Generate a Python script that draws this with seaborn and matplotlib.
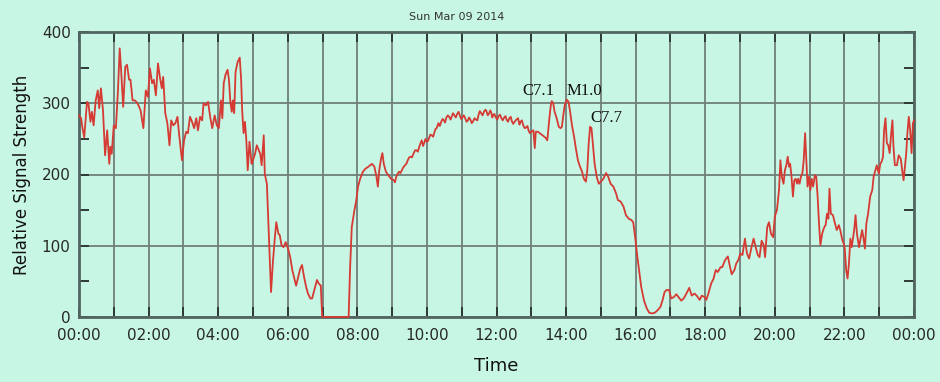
import matplotlib
matplotlib.use("Agg")
import matplotlib.pyplot as plt
import seaborn as sns
import pandas as pd

# ---- data (hours since 00:00, relative signal strength) ----
hours = [
    0.00, 0.06, 0.10, 0.15, 0.23, 0.27, 0.33, 0.37, 0.42, 0.48, 0.54, 0.58, 0.63, 0.69, 0.75, 0.81, 0.87, 0.90, 0.94,
    1.00, 1.06, 1.12, 1.17, 1.21, 1.27, 1.33, 1.38, 1.44, 1.48, 1.54, 1.60, 1.65, 1.71, 1.77, 1.85, 1.92, 1.98,
    2.04, 2.10, 2.15, 2.21, 2.27, 2.33, 2.38, 2.42, 2.48, 2.54, 2.60, 2.65, 2.71, 2.77, 2.83, 2.88, 2.96,
    3.02, 3.08, 3.13, 3.19, 3.25, 3.31, 3.37, 3.42, 3.48, 3.54, 3.58, 3.65, 3.71, 3.77, 3.83, 3.90, 3.96,
    4.02, 4.08, 4.12, 4.16, 4.21, 4.27, 4.31, 4.35, 4.39, 4.42, 4.46, 4.50, 4.56, 4.62, 4.66, 4.69, 4.73, 4.77,
    4.81, 4.85, 4.90, 4.96, 5.00, 5.06, 5.11, 5.17, 5.21, 5.25, 5.31, 5.34, 5.40, 5.46, 5.52, 5.57, 5.63, 5.67,
    5.73, 5.77, 5.82, 5.88, 5.94, 6.01, 6.07, 6.13, 6.19, 6.24, 6.30, 6.36, 6.41, 6.47, 6.53, 6.58, 6.65, 6.70,
    6.76, 6.84, 6.89, 6.95, 6.99, 7.75, 7.79, 7.84, 7.91, 7.97, 8.02, 8.08, 8.16, 8.23,
    8.32, 8.42, 8.49, 8.55, 8.59, 8.63, 8.68, 8.72, 8.76, 8.82, 8.89, 8.97, 9.05, 9.12, 9.20, 9.28, 9.37, 9.45,
    9.53, 9.62, 9.70, 9.78, 9.85, 9.92, 9.99, 10.06, 10.14, 10.22, 10.28, 10.33, 10.41, 10.49, 10.56, 10.64,
    10.72, 10.79, 10.87, 10.95, 11.02, 11.10, 11.18, 11.25, 11.33, 11.41, 11.48, 11.56, 11.64, 11.71, 11.79,
    11.85, 11.90, 11.98, 12.06, 12.14, 12.22, 12.29, 12.37, 12.44, 12.52,
    12.62, 12.69, 12.77, 12.85, 12.92, 13.00, 13.06, 13.10, 13.13, 13.19, 13.27, 13.35, 13.42, 13.46, 13.52,
    13.56, 13.59, 13.63, 13.67, 13.73, 13.79, 13.84, 13.88, 13.92, 13.96, 14.02, 14.07, 14.11, 14.17, 14.23,
    14.28, 14.34, 14.40, 14.46, 14.51, 14.57, 14.61, 14.65, 14.69, 14.73, 14.76, 14.82, 14.88, 14.94, 15.00,
    15.07, 15.15, 15.21, 15.28, 15.36, 15.44, 15.49, 15.57, 15.65, 15.72, 15.80, 15.88, 15.93, 15.99, 16.05,
    16.11, 16.16, 16.24, 16.32, 16.39, 16.47, 16.55, 16.62,
    16.71, 16.77, 16.83, 16.89, 16.96, 17.02, 17.10, 17.17, 17.23, 17.31, 17.38, 17.46, 17.54, 17.61, 17.69,
    17.77, 17.84, 17.90, 17.98, 18.03, 18.09, 18.17, 18.24, 18.30, 18.36, 18.44, 18.49, 18.57, 18.65, 18.70,
    18.76, 18.84, 18.89, 18.95, 19.01, 19.07, 19.14, 19.20, 19.26, 19.33, 19.39, 19.45, 19.51, 19.56, 19.62,
    19.68, 19.72, 19.78, 19.83, 19.89, 19.95, 20.00, 20.06, 20.12, 20.16,
    20.20, 20.25, 20.29, 20.33, 20.37, 20.41, 20.44, 20.48, 20.52, 20.56, 20.60, 20.64, 20.67, 20.71, 20.75,
    20.79, 20.83, 20.87, 20.90, 20.94, 20.98, 21.02, 21.06, 21.10, 21.15, 21.19, 21.23, 21.27, 21.31, 21.36,
    21.42, 21.46, 21.50, 21.54, 21.57, 21.61, 21.67, 21.73, 21.78, 21.84, 21.88, 21.94, 21.98, 22.01, 22.05,
    22.09, 22.13, 22.17, 22.21, 22.24, 22.28, 22.32, 22.36, 22.42, 22.47, 22.51, 22.55, 22.59, 22.63, 22.68,
    22.74, 22.80, 22.84, 22.89, 22.93, 22.99, 23.03, 23.07, 23.11, 23.14, 23.18, 23.22, 23.26, 23.30, 23.34,
    23.38, 23.41, 23.45, 23.51, 23.56, 23.62, 23.66, 23.70, 23.74, 23.78, 23.81, 23.85, 23.89, 23.93, 23.97, 24.00,
]
signal = [
    283, 279, 265, 252, 302, 300, 274, 288, 269, 304, 318, 293, 321, 290, 227, 262, 215, 239, 229,
    269, 265, 318, 377, 347, 295, 351, 354, 333, 333, 304, 304, 302, 297, 290, 265, 318, 309,
    349, 328, 333, 311, 356, 335, 321, 337, 286, 272, 241, 276, 269, 272, 281, 255, 220,
    248, 260, 258, 281, 274, 265, 279, 262, 281, 276, 300, 297, 302, 281, 265, 283, 269,
    265, 304, 279, 328, 340, 347, 333, 302, 288, 304, 286, 344, 358, 364, 333, 290, 258, 274,
    248, 206, 246, 215, 220, 229, 241, 234, 229, 213, 255, 201, 187, 112, 35, 75, 112, 133,
    117, 115, 101, 98, 105, 96, 84, 66, 54, 44, 56, 68, 73, 56, 42, 33, 26, 26,
    37, 52, 47, 44, 0, 0, 66, 126, 148, 164, 183, 194, 204, 208,
    211, 215, 211, 197, 183, 206, 222, 230, 215, 204, 199, 194, 192, 197, 204, 206, 213, 220,
    225, 230, 234, 239, 248, 244, 246, 251, 255, 260, 265, 272, 274, 276, 280, 281,
    282, 283, 285, 282, 280, 279, 276, 277, 275, 277, 283, 286, 288, 289, 286,
    287, 283, 280, 282, 279, 280, 277, 279, 275, 274,
    279, 274, 269, 266, 262, 260, 262, 237, 260, 260, 257, 254, 251, 248, 279,
    297, 303, 300, 288, 279, 267, 265, 267, 283, 297, 305, 302, 290, 269, 253,
    237, 220, 211, 204, 194, 190, 206, 244, 267, 265, 248, 215, 197, 187, 190,
    194, 202, 197, 187, 183, 173, 164, 162, 155, 143, 138, 136, 133, 110, 84,
    61, 42, 23, 12, 6, 5, 6, 9,
    14, 23, 35, 38, 38, 26, 28, 32, 28, 23, 26, 33, 41, 30, 33,
    29, 24, 30, 28, 24, 33, 47, 54, 66, 63, 70, 70, 80, 85, 73,
    60, 66, 75, 80, 89, 87, 110, 89, 82, 98, 110, 98, 87, 84, 107,
    101, 84, 126, 133, 117, 112, 141, 150, 178, 220,
    197, 187, 206, 213, 225, 211, 215, 197, 169, 192, 194, 187, 194, 187, 197,
    201, 220, 258, 225, 183, 197, 178, 194, 183, 199, 197, 169, 131, 101, 117,
    126, 129, 145, 138, 180, 145, 143, 131, 122, 129, 122, 108, 103, 96, 66,
    54, 75, 110, 98, 108, 122, 143, 117, 98, 112, 122, 110, 96, 131, 145,
    169, 178, 197, 206, 213, 201, 215, 218, 225, 262, 279, 244, 241, 230, 255,
    276, 239, 213, 213, 227, 222, 206, 192, 211, 232, 258, 281, 262, 230, 272, 276,
]
# finer readings of the noisy daytime plateau
detail_hours = [
    9.08, 9.16, 9.24, 9.32, 9.41, 9.49, 9.57, 9.66, 9.74, 9.82, 9.89, 9.96, 10.03, 10.10, 10.18, 10.25,
    10.37, 10.45, 10.52, 10.60, 10.68, 10.75, 10.83, 10.91, 10.98, 11.06, 11.14, 11.21, 11.29, 11.37,
    11.45, 11.52, 11.60, 11.68, 11.75, 11.82, 11.88, 11.94, 12.02, 12.10, 12.18, 12.26, 12.33, 12.41,
    12.48, 12.57, 12.66, 12.73, 12.81, 12.89, 12.96,
]
detail_signal = [
    189, 201, 202, 210, 215, 224, 224, 234, 232, 244, 240, 250, 247, 256, 253, 264,
    268, 278, 273, 283, 277, 286, 280, 288, 278, 283, 274, 280, 272, 279,
    276, 289, 283, 291, 283, 290, 280, 285, 277, 284, 276, 282, 274, 281,
    271, 277, 270, 276, 265, 268, 258,
]
x_tick_labels = ["00:00", "02:00", "04:00", "06:00", "08:00", "10:00", "12:00",
                 "14:00", "16:00", "18:00", "20:00", "22:00", "00:00"]
y_ticks = [0, 100, 200, 300, 400]
flare_labels = ["C7.1", "M1.0", "C7.7"]
flare_hours = [13.19, 14.53, 15.17]
flare_values = [317, 317, 279]
title_text = "Sun Mar 09 2014"

df = pd.concat([
    pd.DataFrame({"hour": hours, "signal": signal}),
    pd.DataFrame({"hour": detail_hours, "signal": detail_signal}),
]).sort_values("hour").reset_index(drop=True)

BG = "#c8f6e5"
plt.rcParams["font.family"] = ["DejaVu Sans"]

fig = plt.figure(figsize=(9.4, 3.82), dpi=100, facecolor=BG)
ax = fig.add_axes([79 / 940, 1 - 317 / 382, (914 - 79) / 940, (317 - 32) / 382])
ax.set_facecolor(BG)

sns.lineplot(data=df, x="hour", y="signal", ax=ax, color="#d53a33", linewidth=1.3,
             estimator=None, sort=False)
for ln in ax.lines:
    ln.set_clip_on(False)
    ln.set_zorder(4)

ax.set_xlim(0, 24)
ax.set_ylim(0, 400)

ax.set_xticks(range(0, 25))
ax.set_xticklabels([x_tick_labels[i // 2] if i % 2 == 0 else "" for i in range(25)])
ax.set_yticks(y_ticks)
ax.set_yticks(range(0, 401, 50), minor=True)

ax.grid(True, axis="x", which="major", color="#6f7f79", linewidth=1.3)
ax.grid(True, axis="y", which="major", color="#6f7f79", linewidth=1.3)
ax.set_axisbelow(True)

ax.tick_params(which="both", direction="in", top=True, right=True, length=7, width=1.4,
               color="#2f3a36", labelsize=11, labelcolor="#262a22", pad=6)
ax.tick_params(axis="x", pad=8)

for s in ax.spines.values():
    s.set_color("#526560")
    s.set_linewidth(2)

ax.set_xlabel("Time", fontsize=13, color="#111111", labelpad=10)
ax.set_ylabel("Relative Signal Strength", fontsize=12, color="#111111", labelpad=8)

for lab, hx, vy in zip(flare_labels, flare_hours, flare_values):
    ax.text(hx, vy, lab, ha="center", va="center", fontsize=12,
            family=["Liberation Serif", "DejaVu Serif"], color="#111111")

fig.text(457 / 940, 1 - 17 / 382, title_text, ha="center", va="center",
         fontsize=8, color="#333333")

fig.savefig("out.png", dpi=100, facecolor=BG)
